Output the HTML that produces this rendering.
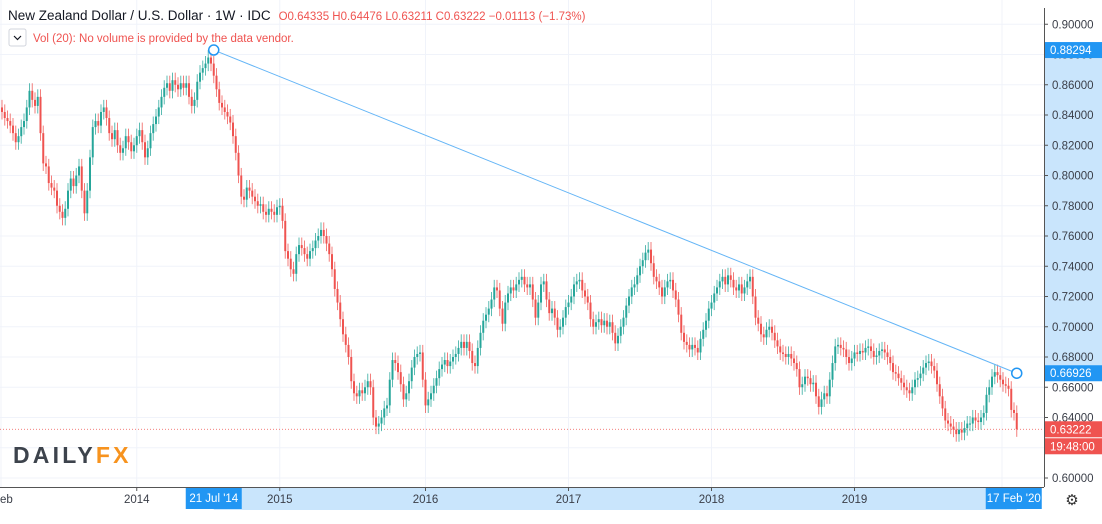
<!DOCTYPE html>
<html><head><meta charset="utf-8"><style>
body{margin:0;width:1102px;height:524px;overflow:hidden;background:#fff;font-family:"Liberation Sans","DejaVu Sans",sans-serif}
svg{display:block}
</style></head><body>
<svg id="chart" width="1102" height="524" xmlns="http://www.w3.org/2000/svg"></svg>
<script>
const closes=[0.842,0.838,0.836,0.833,0.828,0.822,0.826,0.832,0.836,0.845,0.856,0.850,0.846,0.852,0.828,0.808,0.806,0.795,0.792,0.790,
0.780,0.776,0.772,0.778,0.790,0.798,0.793,0.800,0.806,0.790,0.775,0.790,0.812,0.832,0.836,0.833,0.842,0.845,0.838,0.828,
0.824,0.830,0.820,0.815,0.818,0.826,0.822,0.816,0.820,0.826,0.830,0.822,0.812,0.818,0.828,0.834,0.839,0.845,0.852,0.858,
0.861,0.856,0.863,0.860,0.857,0.861,0.858,0.861,0.852,0.846,0.850,0.862,0.868,0.871,0.874,0.878,0.874,0.866,0.857,0.848,
0.845,0.842,0.839,0.835,0.826,0.815,0.800,0.786,0.784,0.792,0.790,0.786,0.783,0.780,0.781,0.776,0.774,0.778,0.776,0.774,
0.779,0.780,0.770,0.750,0.745,0.738,0.735,0.748,0.754,0.752,0.748,0.745,0.750,0.752,0.757,0.760,0.764,0.760,0.755,0.748,
0.738,0.725,0.716,0.705,0.695,0.688,0.680,0.664,0.656,0.654,0.658,0.656,0.660,0.664,0.660,0.640,0.634,0.636,0.640,0.646,
0.648,0.665,0.678,0.676,0.670,0.662,0.652,0.656,0.664,0.673,0.680,0.682,0.683,0.665,0.648,0.652,0.656,0.661,0.666,0.672,
0.675,0.678,0.674,0.677,0.680,0.682,0.686,0.690,0.686,0.690,0.684,0.676,0.674,0.686,0.696,0.704,0.708,0.712,0.718,0.726,
0.724,0.712,0.702,0.716,0.722,0.726,0.724,0.728,0.731,0.733,0.728,0.726,0.728,0.718,0.706,0.716,0.728,0.730,0.718,0.709,
0.712,0.706,0.698,0.700,0.706,0.713,0.716,0.720,0.728,0.730,0.731,0.724,0.720,0.716,0.705,0.700,0.703,0.705,0.701,0.704,
0.700,0.703,0.696,0.689,0.694,0.700,0.706,0.714,0.720,0.726,0.728,0.734,0.740,0.744,0.749,0.751,0.742,0.733,0.730,0.726,
0.720,0.726,0.730,0.731,0.724,0.718,0.708,0.696,0.690,0.688,0.685,0.688,0.686,0.683,0.692,0.698,0.704,0.712,0.716,0.722,
0.726,0.730,0.733,0.728,0.734,0.731,0.726,0.724,0.728,0.722,0.726,0.730,0.733,0.720,0.706,0.702,0.695,0.693,0.698,0.700,
0.696,0.691,0.687,0.683,0.682,0.680,0.682,0.679,0.676,0.672,0.660,0.662,0.667,0.666,0.662,0.663,0.654,0.647,0.652,0.656,
0.654,0.665,0.676,0.687,0.688,0.686,0.685,0.680,0.676,0.679,0.683,0.682,0.684,0.683,0.686,0.687,0.684,0.680,0.681,0.684,
0.685,0.683,0.680,0.676,0.670,0.669,0.666,0.663,0.660,0.658,0.656,0.660,0.665,0.666,0.669,0.673,0.676,0.677,0.674,0.671,
0.662,0.654,0.646,0.638,0.636,0.634,0.632,0.629,0.632,0.630,0.633,0.636,0.636,0.640,0.638,0.637,0.640,0.643,0.655,0.660,
0.667,0.670,0.668,0.665,0.662,0.661,0.659,0.645,0.643,0.63222];
const firstOpen=0.845;
const priceTicks=[0.90,0.88,0.86,0.84,0.82,0.80,0.78,0.76,0.74,0.72,0.70,0.68,0.66,0.64,0.62,0.60];
const yearLabels=["2014","2015","2016","2017","2018","2019"];
const yearIndex=[49,101,154,206,258,310];
const trendIdx=[77,369];
const trendPrice=[0.88294,0.66926];

const NS="http://www.w3.org/2000/svg";
const svg=document.getElementById('chart');
const X=i=>2+i*2.75;
const Y=p=>236+(0.76-p)/0.02*30.25;
function el(tag,attrs,parent){const e=document.createElementNS(NS,tag);for(const k in attrs)e.setAttribute(k,attrs[k]);(parent||svg).appendChild(e);return e;}
function txt(s,attrs,parent){const e=el('text',attrs,parent);e.textContent=s;return e;}

const grid=el('g',{});


priceTicks.forEach(p=>{el('line',{x1:0,x2:1044,y1:Y(p),y2:Y(p),stroke:'#f0f3fa','stroke-width':1},grid);});
el('line',{x1:1,x2:1,y1:0,y2:487,stroke:'#f0f3fa'},grid);
yearIndex.forEach(i=>{el('line',{x1:X(i),x2:X(i),y1:0,y2:487,stroke:'#f0f3fa'},grid);});
el('line',{x1:1002,x2:1002,y1:0,y2:487,stroke:'#f0f3fa'},grid);

const cpl=el('line',{x1:0,x2:1044,y1:Y(closes[closes.length-1]),y2:Y(closes[closes.length-1]),stroke:'#ef5350','stroke-width':0.8,'stroke-dasharray':'1,2'});



const logo=el('text',{x:13,y:463,'font-size':23,'font-weight':'bold','letter-spacing':'3.2'});


const t1=el('tspan',{fill:'#3d434c'},logo);t1.textContent='DAILY';
const t2=el('tspan',{fill:'#f7931e'},logo);t2.textContent='FX';

const cg=el('g',{});


closes.forEach((c,i)=>{
  const o=i===0?firstOpen:closes[i-1];
  const up=c>=o;const col=up?'#26a69a':'#ef5350';
  const hi=Math.max(o,c)+0.005, lo=Math.min(o,c)-0.005;
  const x=X(i);
  const w=el('line',{x1:x,x2:x,y1:Y(hi),y2:Y(lo),stroke:col,'stroke-width':1,opacity:0.75},cg);
  
  
  const top=Y(Math.max(o,c)),bot=Y(Math.min(o,c));
  const b=el('rect',{x:x-1,y:top,width:2,height:Math.max(1,bot-top),fill:col},cg);
  
  
});

const tl=el('line',{x1:X(trendIdx[0]),y1:Y(trendPrice[0]),x2:X(trendIdx[1]),y2:Y(trendPrice[1]),stroke:'#64b5f6','stroke-width':1});


trendIdx.forEach((ti,k)=>{
  const c=el('circle',{cx:X(ti),cy:Y(trendPrice[k]),r:5,fill:'#fff',stroke:'#2196f3','stroke-width':1.5});
  
  
});

const pa=el('g',{});


el('rect',{x:1044,y:Y(trendPrice[0]),width:58,height:Y(trendPrice[1])-Y(trendPrice[0]),fill:'#bbdefb',opacity:0.8},pa);
el('line',{x1:1044.5,x2:1044.5,y1:8,y2:487,stroke:'#555','stroke-width':1},pa);
priceTicks.forEach(p=>{
  if(p===0.62)return;
  el('line',{x1:1044,x2:1048,y1:Y(p),y2:Y(p),stroke:'#555'},pa);
  const t=txt(p.toFixed(5),{x:1052,y:Y(p)+4,'font-size':11.5,fill:'#3a3e48'},pa);
  
  
});
function badge(v,y,bg,name){
  const g=el('g',{},pa);
  
  
  el('rect',{x:1045,y:y-8,width:57,height:16,fill:bg},g);
  txt(v,{x:1050,y:y+4,'font-size':11.5,fill:'#fff'},g);
}
badge(trendPrice[0].toFixed(5),Y(trendPrice[0]),'#2196f3','trend-start-price-badge');
badge(trendPrice[1].toFixed(5),Y(trendPrice[1]),'#2196f3','trend-end-price-badge');
badge(closes[closes.length-1].toFixed(5),Y(closes[closes.length-1]),'#ef5350','last-price-badge');
badge('19:48:00',Y(closes[closes.length-1])+17,'#ef5350','countdown-badge');

const ta=el('g',{});


el('rect',{x:X(trendIdx[0]),y:488,width:X(trendIdx[1])-X(trendIdx[0]),height:22,fill:'#bbdefb',opacity:0.8},ta);
el('line',{x1:0,x2:1044,y1:487.5,y2:487.5,stroke:'#555'},ta);
txt('eb',{x:0,y:503,'font-size':11.5,fill:'#3a3e48'},ta);
yearIndex.forEach((i,k)=>{
  el('line',{x1:X(i),x2:X(i),y1:487,y2:491,stroke:'#555'},ta);
  const t=txt(yearLabels[k],{x:X(i),y:503,'font-size':11.5,fill:'#3a3e48','text-anchor':'middle'},ta);
  
  
});
function dbadge(s,x,name){
  const g=el('g',{},ta);
  
  
  el('rect',{x:x-28,y:488,width:56,height:21,fill:'#2196f3'},g);
  txt(s,{x:x,y:502,'font-size':11.5,fill:'#fff','text-anchor':'middle'},g);
}
dbadge("21 Jul '14",X(trendIdx[0]),'trend-start-date-badge');
dbadge("17 Feb '20",X(trendIdx[1])-3,'trend-end-date-badge');
const gear=el('text',{x:1072,y:505,'font-size':15,fill:'#333','text-anchor':'middle'});
gear.textContent='⚙';



const h=el('text',{x:8,y:20,'font-size':13.5,fill:'#131722'});


h.innerHTML='<tspan>New Zealand Dollar / U.S. Dollar · 1W · IDC</tspan><tspan font-size="11.5" fill="#ef5350" dx="8">O0.64335 H0.64476 L0.63211 C0.63222 −0.01113 (−1.73%)</tspan>';
const cb=el('rect',{x:9,y:29,width:17,height:17,rx:2,fill:'#fff',stroke:'#d1d4dc'});


el('path',{d:'M14 36 L17.5 39.5 L21 36',stroke:'#131722','stroke-width':1.2,fill:'none'});
const vol=txt('Vol (20): No volume is provided by the data vendor.',{x:33,y:42,'font-size':11.5,fill:'#ef5350'});


</script>
</body></html>
